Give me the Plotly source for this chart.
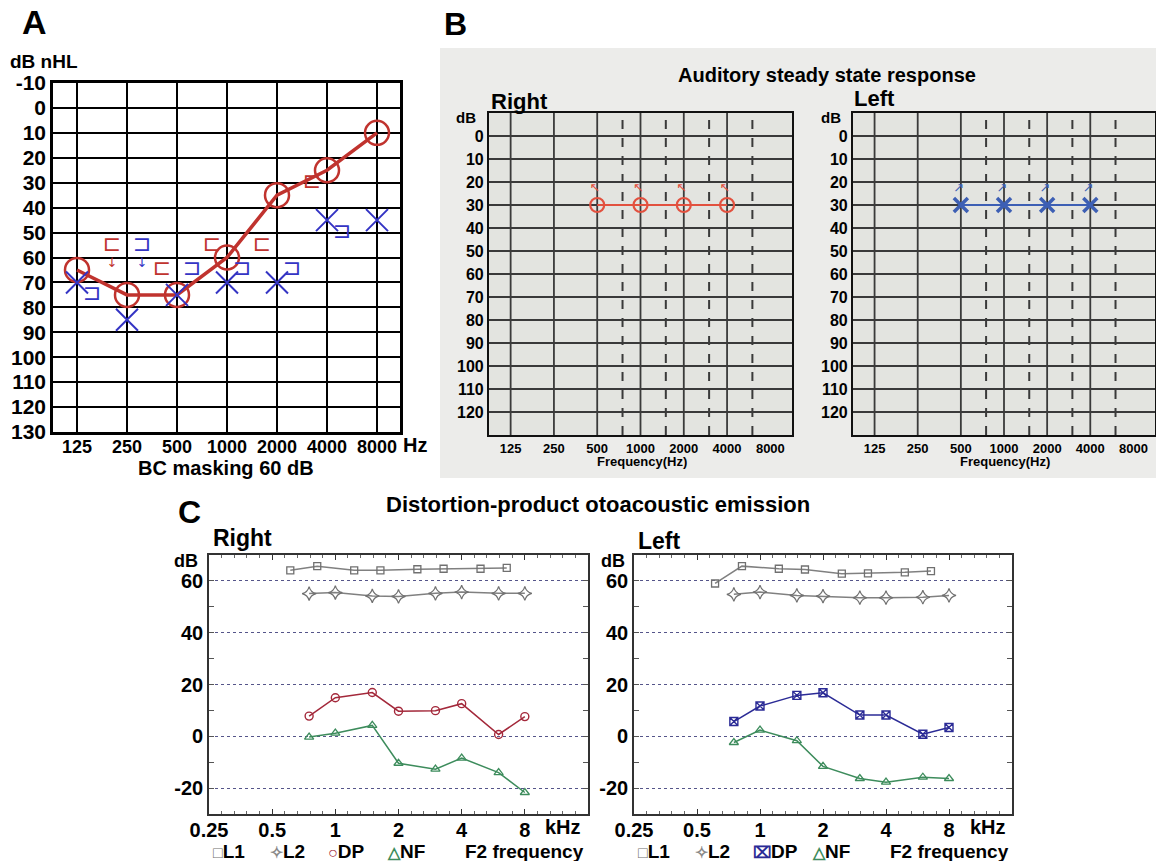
import numpy as np
import plotly.graph_objects as go

W, H = 1156, 861
FONT = "Liberation Sans, Arial, sans-serif"


def px(x):
    return x / W


def py(y):
    return 1 - y / H


# ---------------- Panel A data (audiogram) ----------------
a_freqs = [125, 250, 500, 1000, 2000, 4000, 8000]
a_freq_labels = ["125", "250", "500", "1000", "2000", "4000", "8000"]
a_right_ac = [65, 75, 75, 60, 35, 25, 10]
a_left_ac = [70, 85, 75, 70, 70, 45, 45]
a_right_bc_freqs = [250, 500, 1000, 2000, 4000]
a_right_bc = [55, 65, 55, 55, 30]
a_left_bc_freqs = [125, 250, 500, 1000, 2000, 4000]
a_left_bc = [75, 55, 65, 65, 65, 50]
a_db_ticks = list(range(-10, 131, 10))

# ---------------- Panel B data (ASSR) ----------------
b_freqs = [500, 1000, 2000, 4000]
b_right = [30, 30, 30, 30]
b_left = [30, 30, 30, 30]
b_tick_freqs = [125, 250, 500, 1000, 2000, 4000, 8000]
b_tick_labels = ["125", "250", "500", "1000", "2000", "4000", "8000"]
b_solid_grid = [125, 250, 500, 1000, 2000, 4000]
b_dashed_grid = [750, 1500, 3000, 6000]
b_db_ticks = list(range(0, 121, 10))

# ---------------- Panel C data (DPOAE) ----------------
c_f1 = [0.61, 0.82, 1.23, 1.64, 2.46, 3.28, 4.92, 6.56]
c_f2 = [0.75, 1, 1.5, 2, 3, 4, 6, 8]
cr_l1 = [64.1, 65.7, 64.1, 64.1, 64.5, 64.7, 64.7, 65.0]
cr_l2 = [55.1, 55.5, 54.2, 54.0, 55.2, 55.7, 55.2, 55.2]
cr_dp = [7.8, 14.9, 16.9, 9.7, 9.9, 12.6, 0.7, 7.6]
cr_nf = [-0.3, 1.2, 4.2, -10.4, -12.7, -8.4, -14.0, -21.7]
cl_l1 = [59.0, 65.7, 64.7, 64.4, 62.8, 62.9, 63.3, 63.8]
cl_l2 = [54.8, 55.7, 54.4, 54.1, 53.5, 53.5, 53.7, 54.4]
cl_dp = [5.7, 11.7, 15.8, 16.8, 8.2, 8.2, 0.8, 3.4]
cl_nf = [-2.4, 2.4, -1.7, -11.6, -16.3, -17.7, -15.8, -16.3]
c_khz_ticks = [0.25, 0.5, 1, 2, 4, 8]
c_khz_labels = ["0.25", "0.5", "1", "2", "4", "8"]
c_db_ticks = [-20, 0, 20, 40, 60]
c_db_minor = [-10, 10, 30, 50]


def octv(f):
    return np.log2(np.asarray(f, dtype=float) / 125.0)


RED_A = "#c0332e"
BLUE_A = "#3434c4"
RED_B = "#e2513f"
BLUE_B = "#3d5fb4"
GRAY_C = "#808080"
DP_R = "#a3283a"
DP_L = "#2b2b96"
NF_C = "#3d8c5c"

fig = go.Figure()

# ---- Panel A traces ----
fig.add_trace(go.Scatter(
    x=octv(a_freqs), y=a_right_ac, mode="lines+markers", xaxis="x", yaxis="y",
    line=dict(color=RED_A, width=3.5),
    marker=dict(symbol="circle-open", size=24, color=RED_A, line=dict(width=2.5, color=RED_A)),
    showlegend=False))
fig.add_trace(go.Scatter(
    x=octv(a_freqs), y=a_left_ac, mode="markers", xaxis="x", yaxis="y",
    marker=dict(symbol="x-thin", size=22, line=dict(width=2, color=BLUE_A)),
    showlegend=False))
fig.add_trace(go.Scatter(
    x=octv(a_right_bc_freqs) - 0.3, y=a_right_bc, mode="text", xaxis="x", yaxis="y",
    text=["⊏"] * len(a_right_bc), textfont=dict(size=22, color=RED_A, family="DejaVu Sans"),
    showlegend=False))
fig.add_trace(go.Scatter(
    x=octv(a_left_bc_freqs) + 0.3, y=a_left_bc, mode="text", xaxis="x", yaxis="y",
    text=["⊐"] * len(a_left_bc), textfont=dict(size=22, color=BLUE_A, family="DejaVu Sans"),
    showlegend=False))
# small "no response" arrows under the 250 Hz bone-conduction symbols
fig.add_trace(go.Scatter(
    x=[octv([250])[0] - 0.3, octv([250])[0] + 0.3], y=[62.5, 62.5], mode="text",
    xaxis="x", yaxis="y", text=["↓", "↓"],
    textfont=dict(size=13, color=[RED_A, BLUE_A], family="DejaVu Sans"), showlegend=False))

# ---- Panel B traces ----
fig.add_trace(go.Scatter(
    x=octv(b_freqs), y=b_right, mode="lines+markers", xaxis="x2", yaxis="y2",
    line=dict(color=RED_B, width=1.8),
    marker=dict(symbol="circle-open", size=14, color=RED_B, line=dict(width=2.2, color=RED_B)),
    showlegend=False))
fig.add_trace(go.Scatter(
    x=octv(b_freqs) - 0.05, y=[v - 7 for v in b_right], mode="text", xaxis="x2", yaxis="y2",
    text=["↖"] * len(b_freqs), textfont=dict(size=13, color=RED_B, family="DejaVu Sans"),
    showlegend=False))
fig.add_trace(go.Scatter(
    x=octv(b_freqs), y=b_left, mode="lines+markers", xaxis="x3", yaxis="y3",
    line=dict(color=BLUE_B, width=1.8),
    marker=dict(symbol="x-thin", size=14, line=dict(width=3.5, color=BLUE_B)),
    showlegend=False))
fig.add_trace(go.Scatter(
    x=octv(b_freqs) - 0.05, y=[v - 7 for v in b_left], mode="text", xaxis="x3", yaxis="y3",
    text=["↗"] * len(b_freqs), textfont=dict(size=13, color=BLUE_B, family="DejaVu Sans"),
    showlegend=False))


# ---- Panel C traces ----
def c_traces(xa, ya, l1, l2, dp, nf, dp_color, dp_symbol):
    fig.add_trace(go.Scatter(x=c_f1, y=l1, mode="lines+markers", xaxis=xa, yaxis=ya,
                             line=dict(color=GRAY_C, width=1.5),
                             marker=dict(symbol="square-open", size=7, color="#707070",
                                         line=dict(width=1.3)), showlegend=False))
    fig.add_trace(go.Scatter(x=c_f2, y=l2, mode="lines+markers", xaxis=xa, yaxis=ya,
                             line=dict(color=GRAY_C, width=1.5),
                             marker=dict(symbol="star-diamond-open", size=10, color="#707070",
                                         line=dict(width=1.2)), showlegend=False))
    fig.add_trace(go.Scatter(x=c_f2, y=dp, mode="lines+markers", xaxis=xa, yaxis=ya,
                             line=dict(color=dp_color, width=1.5),
                             marker=dict(symbol=dp_symbol, size=8, color=dp_color,
                                         line=dict(width=1.4)), showlegend=False))
    fig.add_trace(go.Scatter(x=c_f2, y=nf, mode="lines+markers", xaxis=xa, yaxis=ya,
                             line=dict(color=NF_C, width=1.5),
                             marker=dict(symbol="triangle-up-open", size=8, color=NF_C,
                                         line=dict(width=1.3)), showlegend=False))


c_traces("x4", "y4", cr_l1, cr_l2, cr_dp, cr_nf, DP_R, "circle-open")
c_traces("x5", "y5", cl_l1, cl_l2, cl_dp, cl_nf, DP_L, "square-x-open")

# ---------------- Layout / axes ----------------
bold = dict(family=FONT, color="black", weight="bold")

layout = dict(
    width=W, height=H, margin=dict(l=0, r=0, t=0, b=0, autoexpand=False),
    paper_bgcolor="white", plot_bgcolor="white", showlegend=False,
    font=dict(family=FONT, color="black"),
)

# Panel A axes
layout["xaxis"] = dict(
    domain=[px(53), px(400)], range=[-0.48, 6.46], anchor="y", automargin=False,
    tickmode="array", tickvals=octv(a_freqs), ticktext=a_freq_labels,
    showgrid=True, gridcolor="black", gridwidth=2, zeroline=False,
    showline=True, mirror=True, linecolor="black", linewidth=2.5,
    ticks="", ticklabelstandoff=-3, tickfont=dict(size=18, **bold))
layout["yaxis"] = dict(
    domain=[py(432), py(83)], range=[130, -10], anchor="x", automargin=False,
    tickmode="array", tickvals=a_db_ticks, ticktext=[str(v) for v in a_db_ticks],
    showgrid=True, gridcolor="black", gridwidth=2, zeroline=False,
    showline=True, mirror=True, linecolor="black", linewidth=2.5,
    ticks="", tickfont=dict(size=21, **bold))

# Panel B axes
for xa, ya, x0, x1 in (("xaxis2", "yaxis2", 489, 792), ("xaxis3", "yaxis3", 853, 1155)):
    xn, yn = "x" + xa[5:], "y" + ya[5:]
    layout[xa] = dict(
        domain=[px(x0), px(x1)], range=[-0.5, 6.5], anchor=yn, automargin=False,
        tickmode="array", tickvals=octv(b_tick_freqs), ticktext=b_tick_labels,
        showgrid=False, zeroline=False,
        showline=True, mirror=True, linecolor="#111", linewidth=2.2,
        ticks="", tickfont=dict(size=13, **bold))
    layout[ya] = dict(
        domain=[py(435), py(113)], range=[130, -10], anchor=xn, automargin=False,
        tickmode="array", tickvals=b_db_ticks, ticktext=[str(v) for v in b_db_ticks],
        showgrid=True, gridcolor="#3a3a3a", gridwidth=1.8, zeroline=False,
        showline=True, mirror=True, linecolor="#111", linewidth=2.2,
        ticks="", tickfont=dict(size=16, **bold))

# Panel C axes
c_minor_x = [0.25 * 2 ** (k / 5.0) for k in range(1, 30) if k % 5 != 0]
for xa, ya, x0, x1 in (("xaxis4", "yaxis4", 209, 588), ("xaxis5", "yaxis5", 634, 1012)):
    xn, yn = "x" + xa[5:], "y" + ya[5:]
    layout[xa] = dict(
        domain=[px(x0), px(x1)], type="log", range=[np.log10(0.25), np.log10(16)], anchor=yn,
        automargin=False,
        tickmode="array", tickvals=c_khz_ticks, ticktext=c_khz_labels,
        showgrid=False, zeroline=False,
        showline=True, mirror="allticks", linecolor="#333", linewidth=1.6,
        ticks="inside", ticklen=5, tickcolor="#333", ticklabelstandoff=-3,
        minor=dict(tickmode="array", tickvals=c_minor_x, ticks="inside", ticklen=3,
                   tickcolor="#666", showgrid=False),
        tickfont=dict(size=20, **bold))
    layout[ya] = dict(
        domain=[py(814), py(555)], range=[-30, 70], anchor=xn, automargin=False,
        tickmode="array", tickvals=c_db_ticks, ticktext=[str(v) for v in c_db_ticks],
        showgrid=True, gridcolor="#55558a", gridwidth=1, griddash="dot", zeroline=False,
        showline=True, mirror="allticks", linecolor="#333", linewidth=1.6,
        ticks="inside", ticklen=5, tickcolor="#555",
        minor=dict(tickmode="array", tickvals=c_db_minor, ticks="inside", ticklen=5,
                   tickcolor="#555", showgrid=False),
        tickfont=dict(size=20, **bold))

# ---------------- Shapes ----------------
shapes = [
    # panel B light gray background
    dict(type="rect", xref="paper", yref="paper", x0=px(440), x1=1, y0=py(478), y1=py(48),
         fillcolor="#ececea", line=dict(width=0), layer="below"),
]
for xn, yn in (("x2", "y2"), ("x3", "y3")):
    shapes.append(dict(type="rect", xref=xn + " domain", yref=yn + " domain", x0=0, x1=1, y0=0, y1=1,
                       fillcolor="#e3e4e0", line=dict(width=0), layer="below"))
    for v in octv(b_solid_grid):
        shapes.append(dict(type="line", xref=xn, yref=yn + " domain", x0=float(v), x1=float(v),
                           y0=0, y1=1, line=dict(color="#3a3a3a", width=1.8), layer="below"))
    for v in octv(b_dashed_grid):
        shapes.append(dict(type="line", xref=xn, yref=yn + " domain", x0=float(v), x1=float(v),
                           y0=0, y1=1, line=dict(color="#3a3a3a", width=2, dash="dash"),
                           layer="below"))
layout["shapes"] = shapes


# ---------------- Annotations ----------------
def ann(text, x, y, size, xanchor="center", yanchor="middle", color="black", family=FONT):
    return dict(text=text, x=px(x), y=py(y), xref="paper", yref="paper", showarrow=False,
                xanchor=xanchor, yanchor=yanchor,
                font=dict(size=size, color=color, family=family, weight="bold"))


anns = [
    ann("A", 20, 22, 34, xanchor="left"),
    ann("dB nHL", 8, 62, 19, xanchor="left"),
    ann("Hz", 401, 445, 20, xanchor="left"),
    ann("BC masking 60 dB", 226, 468, 20),
    ann("B", 442, 24, 32, xanchor="left"),
    ann("Auditory steady state response", 827, 75, 20),
    ann("Right", 489, 101, 22, xanchor="left"),
    ann("Left", 852, 99, 22, xanchor="left"),
    ann("dB", 478, 117, 15, xanchor="right"),
    ann("dB", 843, 117, 15, xanchor="right"),
    ann("Frequency(Hz)", 642, 461, 13),
    ann("Frequency(Hz)", 1005, 461, 13),
    ann("C", 176, 512, 32, xanchor="left"),
    ann("Distortion-product otoacoustic emission", 598, 505, 22),
    ann("Right", 211, 538, 23, xanchor="left"),
    ann("Left", 636, 541, 23, xanchor="left"),
    ann("dB", 200, 561, 18, xanchor="right"),
    ann("dB", 627, 561, 18, xanchor="right"),
    ann("kHz", 543, 827, 20, xanchor="left"),
    ann("kHz", 968, 827, 20, xanchor="left"),
]


def legend_row(x0, dp_color, dp_glyph):
    items = [
        ("□", "#707070", "L1", x0),
        ("✧", "#8a8a8a", "L2", x0 + 57),
        (dp_glyph, dp_color, "DP", x0 + 115),
        ("△", NF_C, "NF", x0 + 174),
    ]
    out = []
    for glyph, col, lab, x in items:
        out.append(ann("<span style='color:%s;font-size:16px'>%s</span>%s" % (col, glyph, lab),
                       x, 851, 19, xanchor="left"))
    out.append(ann("F2 frequency", x0 + 375, 851, 19, xanchor="right"))
    return out


anns += legend_row(211, DP_R, "○")
anns += legend_row(636, DP_L, "⌧")
layout["annotations"] = anns

fig.update_layout(**layout)
fig.write_html(
    "out.html",
    config={"displayModeBar": False},
    post_script="document.body.style.margin='0';document.body.style.overflow='hidden';",
)
